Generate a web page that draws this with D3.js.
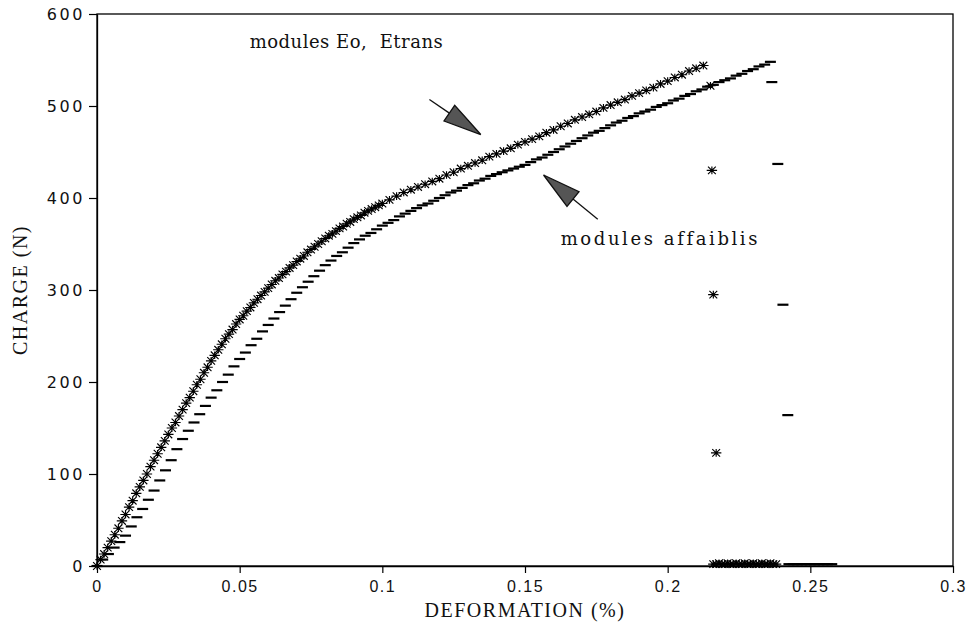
<!DOCTYPE html>
<html>
<head>
<meta charset="utf-8">
<script src="https://cdn.jsdelivr.net/npm/d3@7"></script>
<style>
  html, body { margin: 0; padding: 0; background: #fff; }
  svg { display: block; }
</style>
</head>
<body>
<svg id="chart" width="970" height="625"></svg>
<script>
// Load–strain test: two curves, "*" = modules Eo, Etrans ; "-" = modules affaiblis
const xTicks = [0, 0.05, 0.1, 0.15, 0.2, 0.25, 0.3];
const xTickLabels = ["0", "0.05", "0.1", "0.15", "0.2", "0.25", "0.3"];
const yTicks = [0, 100, 200, 300, 400, 500, 600];
const yTickLabels = ["0", "100", "200", "300", "400", "500", "600"];

// series "*" : strain (%) and load (N)
const starStrain = [
  0, 0.00125, 0.0025, 0.00375, 0.005, 0.00625, 0.0075, 0.00875, 0.01,
  0.01125, 0.0125, 0.01375, 0.015, 0.01625, 0.0175, 0.01875, 0.02,
  0.02125, 0.0225, 0.02375, 0.025, 0.02625, 0.0275, 0.02875, 0.03,
  0.03125, 0.0325, 0.03375, 0.035, 0.03625, 0.0375, 0.03875, 0.04,
  0.04125, 0.0425, 0.04375, 0.045, 0.04625, 0.0475, 0.04875, 0.05,
  0.05125, 0.0525, 0.05375, 0.055, 0.05625, 0.0575, 0.05875, 0.06,
  0.06125, 0.0625, 0.06375, 0.065, 0.06625, 0.0675, 0.06875, 0.07,
  0.07125, 0.0725, 0.07375, 0.075, 0.07625, 0.0775, 0.07875, 0.08,
  0.08125, 0.0825, 0.08375, 0.085, 0.08625, 0.0875, 0.08875, 0.09,
  0.09125, 0.0925, 0.09375, 0.095, 0.09625, 0.0975, 0.09875, 0.1,
  0.1025, 0.105, 0.1075, 0.11, 0.1125, 0.115, 0.1175, 0.12,
  0.1225, 0.125, 0.1275, 0.13, 0.1325, 0.135, 0.1375, 0.14,
  0.1425, 0.145, 0.1475, 0.15, 0.1525, 0.155, 0.1575, 0.16,
  0.1625, 0.165, 0.1675, 0.17, 0.1725, 0.175, 0.1775, 0.18,
  0.1825, 0.185, 0.1875, 0.19, 0.1925, 0.195, 0.1975, 0.2,
  0.2025, 0.205, 0.2075, 0.21, 0.2125,
  0.215, 0.2155, 0.216, 0.217,
  0.216, 0.217, 0.218, 0.219, 0.22, 0.221, 0.222, 0.223, 0.224, 0.225,
  0.226, 0.227, 0.228, 0.229, 0.23, 0.231, 0.232, 0.233, 0.234, 0.235,
  0.236, 0.237, 0.238
];
const starLoad = [
  0, 7, 13, 20, 27, 34, 41, 49, 56,
  64, 71, 79, 86, 93, 100, 108, 115,
  122, 129, 136, 143, 150, 156, 163, 170,
  177, 183, 190, 197, 203, 210, 216, 223,
  229, 235, 241, 247, 252, 257, 263, 268,
  272, 277, 281, 286, 290, 294, 298, 302,
  306, 310, 313, 317, 320, 324, 327, 331,
  334, 337, 341, 344, 347, 350, 353, 356,
  359, 361, 364, 367, 369, 372, 374, 377,
  379, 381, 384, 386, 388, 390, 392, 394,
  398, 402, 406, 409, 412, 415, 418, 421,
  425, 428, 432, 435, 438, 441, 445, 448,
  451, 454, 458, 461, 464, 467, 471, 474,
  478, 481, 485, 488, 491, 494, 498, 501,
  504, 507, 511, 514, 517, 520, 524, 527,
  531, 534, 538, 541, 544,
  522, 430, 295, 123,
  2, 2, 3, 2, 2, 3, 2, 2, 3, 2,
  2, 3, 2, 2, 3, 2, 2, 3, 2, 2,
  3, 2, 2
];

// series "-" : strain (%) and load (N)
const dashStrain = [
  0, 0.002, 0.004, 0.006, 0.008, 0.01, 0.012, 0.014, 0.016, 0.018, 0.02,
  0.022, 0.024, 0.026, 0.028, 0.03, 0.032, 0.034, 0.036, 0.038, 0.04,
  0.042, 0.044, 0.046, 0.048, 0.05, 0.052, 0.054, 0.056, 0.058, 0.06,
  0.062, 0.064, 0.066, 0.068, 0.07, 0.072, 0.074, 0.076, 0.078, 0.08,
  0.082, 0.084, 0.086, 0.088, 0.09, 0.092, 0.094, 0.096, 0.098, 0.1,
  0.102, 0.104, 0.106, 0.108, 0.11, 0.112, 0.114, 0.116, 0.118, 0.12,
  0.122, 0.124, 0.126, 0.128, 0.13, 0.132, 0.134, 0.136, 0.138, 0.14,
  0.142, 0.144, 0.146, 0.148, 0.15, 0.152, 0.154, 0.156, 0.158, 0.16,
  0.162, 0.164, 0.166, 0.168, 0.17, 0.172, 0.174, 0.176, 0.178, 0.18,
  0.182, 0.184, 0.186, 0.188, 0.19, 0.192, 0.194, 0.196, 0.198, 0.2,
  0.202, 0.204, 0.206, 0.208, 0.21, 0.212, 0.214, 0.216, 0.218, 0.22,
  0.222, 0.224, 0.226, 0.228, 0.23, 0.232, 0.234, 0.236,
  0.2365, 0.2386, 0.2404, 0.2421,
  0.2425, 0.244, 0.2455, 0.247, 0.2485, 0.25, 0.2515, 0.253, 0.2545, 0.256, 0.2575
];
const dashLoad = [
  0, 7, 13, 20, 26, 33, 43, 53, 62, 72, 82,
  93, 104, 115, 127, 138, 147, 156, 165, 174, 183,
  191, 200, 208, 217, 225, 232, 240, 247, 255, 262,
  269, 276, 283, 290, 297, 303, 309, 315, 321, 327,
  332, 337, 341, 346, 351, 355, 359, 362, 366, 370,
  373, 376, 380, 383, 386, 389, 392, 394, 397, 400,
  403, 406, 408, 411, 414, 416, 419, 421, 424, 426,
  428, 430, 432, 434, 436, 439, 442, 444, 447, 450,
  453, 456, 459, 462, 465, 468, 471, 473, 476, 479,
  482, 484, 487, 489, 492, 494, 496, 499, 501, 503,
  506, 508, 511, 513, 516, 518, 521, 523, 526, 528,
  530, 533, 535, 538, 540, 543, 545, 548,
  526, 437, 284, 164,
  2, 2, 2, 2, 2, 2, 2, 2, 2, 2, 2
];

const annotations = [
  { text: "modules Eo,  Etrans", x: 0.0535, y: 570, spacing: 0.5, tail: [0.1165, 507], tip: [0.1345, 469] },
  { text: "modules affaiblis", x: 0.1625, y: 356, spacing: 2.6, tail: [0.1755, 377], tip: [0.1565, 425] }
];

const svg = d3.select("#chart");
const margin = { left: 97, right: 17, top: 14, bottom: 59 };
const W = 970, H = 625;

const x = d3.scaleLinear().domain([0, 0.3]).range([margin.left, W - margin.right]);
const y = d3.scaleLinear().domain([0, 600]).range([H - margin.bottom, margin.top]);

// frame
svg.append("rect")
  .attr("x", x(0)).attr("y", y(600))
  .attr("width", x(0.3) - x(0)).attr("height", y(0) - y(600))
  .attr("fill", "none").attr("stroke", "#000").attr("stroke-width", 1.3);

// axes
const xAxis = d3.axisBottom(x).tickValues(xTicks)
  .tickFormat((d, i) => xTickLabels[i]).tickSize(7).tickSizeOuter(0);
const yAxis = d3.axisLeft(y).tickValues(yTicks)
  .tickFormat((d, i) => yTickLabels[i]).tickSize(8).tickSizeOuter(0);

const gx = svg.append("g").attr("transform", `translate(0,${y(0)})`).call(xAxis);
gx.select(".domain").attr("stroke-width", 1.3);
gx.selectAll(".tick line").attr("stroke-width", 1.2);
gx.selectAll(".tick text")
  .attr("font-family", "'Liberation Sans', Arial, sans-serif")
  .attr("font-size", 16).attr("letter-spacing", "1.5px")
  .attr("fill", "#111").attr("dy", "1.0em");

const gy = svg.append("g").attr("transform", `translate(${x(0)},0)`).call(yAxis);
gy.select(".domain").attr("stroke-width", 1.3);
gy.selectAll(".tick line").attr("stroke-width", 1.2);
gy.selectAll(".tick text")
  .attr("font-family", "'DejaVu Sans', sans-serif")
  .attr("font-size", 16).attr("letter-spacing", "2.6px")
  .attr("fill", "#111").attr("x", -12);

// axis titles
svg.append("text")
  .attr("x", (x(0) + x(0.3)) / 2).attr("y", 617)
  .attr("text-anchor", "middle")
  .attr("font-family", "'Liberation Serif', 'Times New Roman', serif")
  .attr("font-size", 20).attr("letter-spacing", "1.5px").attr("fill", "#111")
  .text("DEFORMATION (%)");

svg.append("text")
  .attr("transform", `translate(27,${(y(0) + y(600)) / 2}) rotate(-90)`)
  .attr("text-anchor", "middle")
  .attr("font-family", "'Liberation Serif', 'Times New Roman', serif")
  .attr("font-size", 20).attr("letter-spacing", "1.5px").attr("fill", "#111")
  .text("CHARGE (N)");

// markers
const starPath = (() => {
  const p = d3.path();
  const r = 5.2, ry = 3.8;
  p.moveTo(-r, 0); p.lineTo(r, 0);
  p.moveTo(-r * 0.75, -ry); p.lineTo(r * 0.75, ry);
  p.moveTo(-r * 0.75, ry); p.lineTo(r * 0.75, -ry);
  p.moveTo(0, -ry); p.lineTo(0, ry);
  return p.toString();
})();

const starData = starStrain.map((s, i) => [s, starLoad[i]]);
const dashData = dashStrain.map((s, i) => [s, dashLoad[i]]);

svg.append("g").selectAll("path")
  .data(starData).join("path")
  .attr("d", starPath)
  .attr("transform", d => `translate(${x(d[0])},${y(d[1])})`)
  .attr("fill", "none").attr("stroke", "#000").attr("stroke-width", 1.15);

svg.append("g").selectAll("line")
  .data(dashData).join("line")
  .attr("x1", d => x(d[0]) - 5.5).attr("x2", d => x(d[0]) + 5.5)
  .attr("y1", d => y(d[1])).attr("y2", d => y(d[1]))
  .attr("stroke", "#000").attr("stroke-width", 2.2);

// annotations with filled arrowheads
const ann = svg.append("g");
annotations.forEach(a => {
  const [tx, ty] = [x(a.tail[0]), y(a.tail[1])];
  const [hx, hy] = [x(a.tip[0]), y(a.tip[1])];
  const ang = Math.atan2(hy - ty, hx - tx);
  const L = 38, Wd = 9.5;
  const bx = hx - L * Math.cos(ang), by = hy - L * Math.sin(ang);
  ann.append("line")
    .attr("x1", tx).attr("y1", ty).attr("x2", bx).attr("y2", by)
    .attr("stroke", "#111").attr("stroke-width", 1.3);
  const nx = -Math.sin(ang) * Wd, ny = Math.cos(ang) * Wd;
  ann.append("path")
    .attr("d", `M${hx},${hy}L${bx + nx},${by + ny}L${bx - nx},${by - ny}Z`)
    .attr("fill", "#555").attr("stroke", "#111").attr("stroke-width", 1.3);
  ann.append("text")
    .attr("x", x(a.x)).attr("y", y(a.y))
    .attr("dy", "0.35em")
    .attr("font-family", "'DejaVu Serif', serif")
    .attr("font-size", 18).attr("letter-spacing", `${a.spacing}px`)
    .attr("fill", "#111").attr("xml:space", "preserve")
    .style("white-space", "pre")
    .text(a.text);
});
</script>
</body>
</html>
